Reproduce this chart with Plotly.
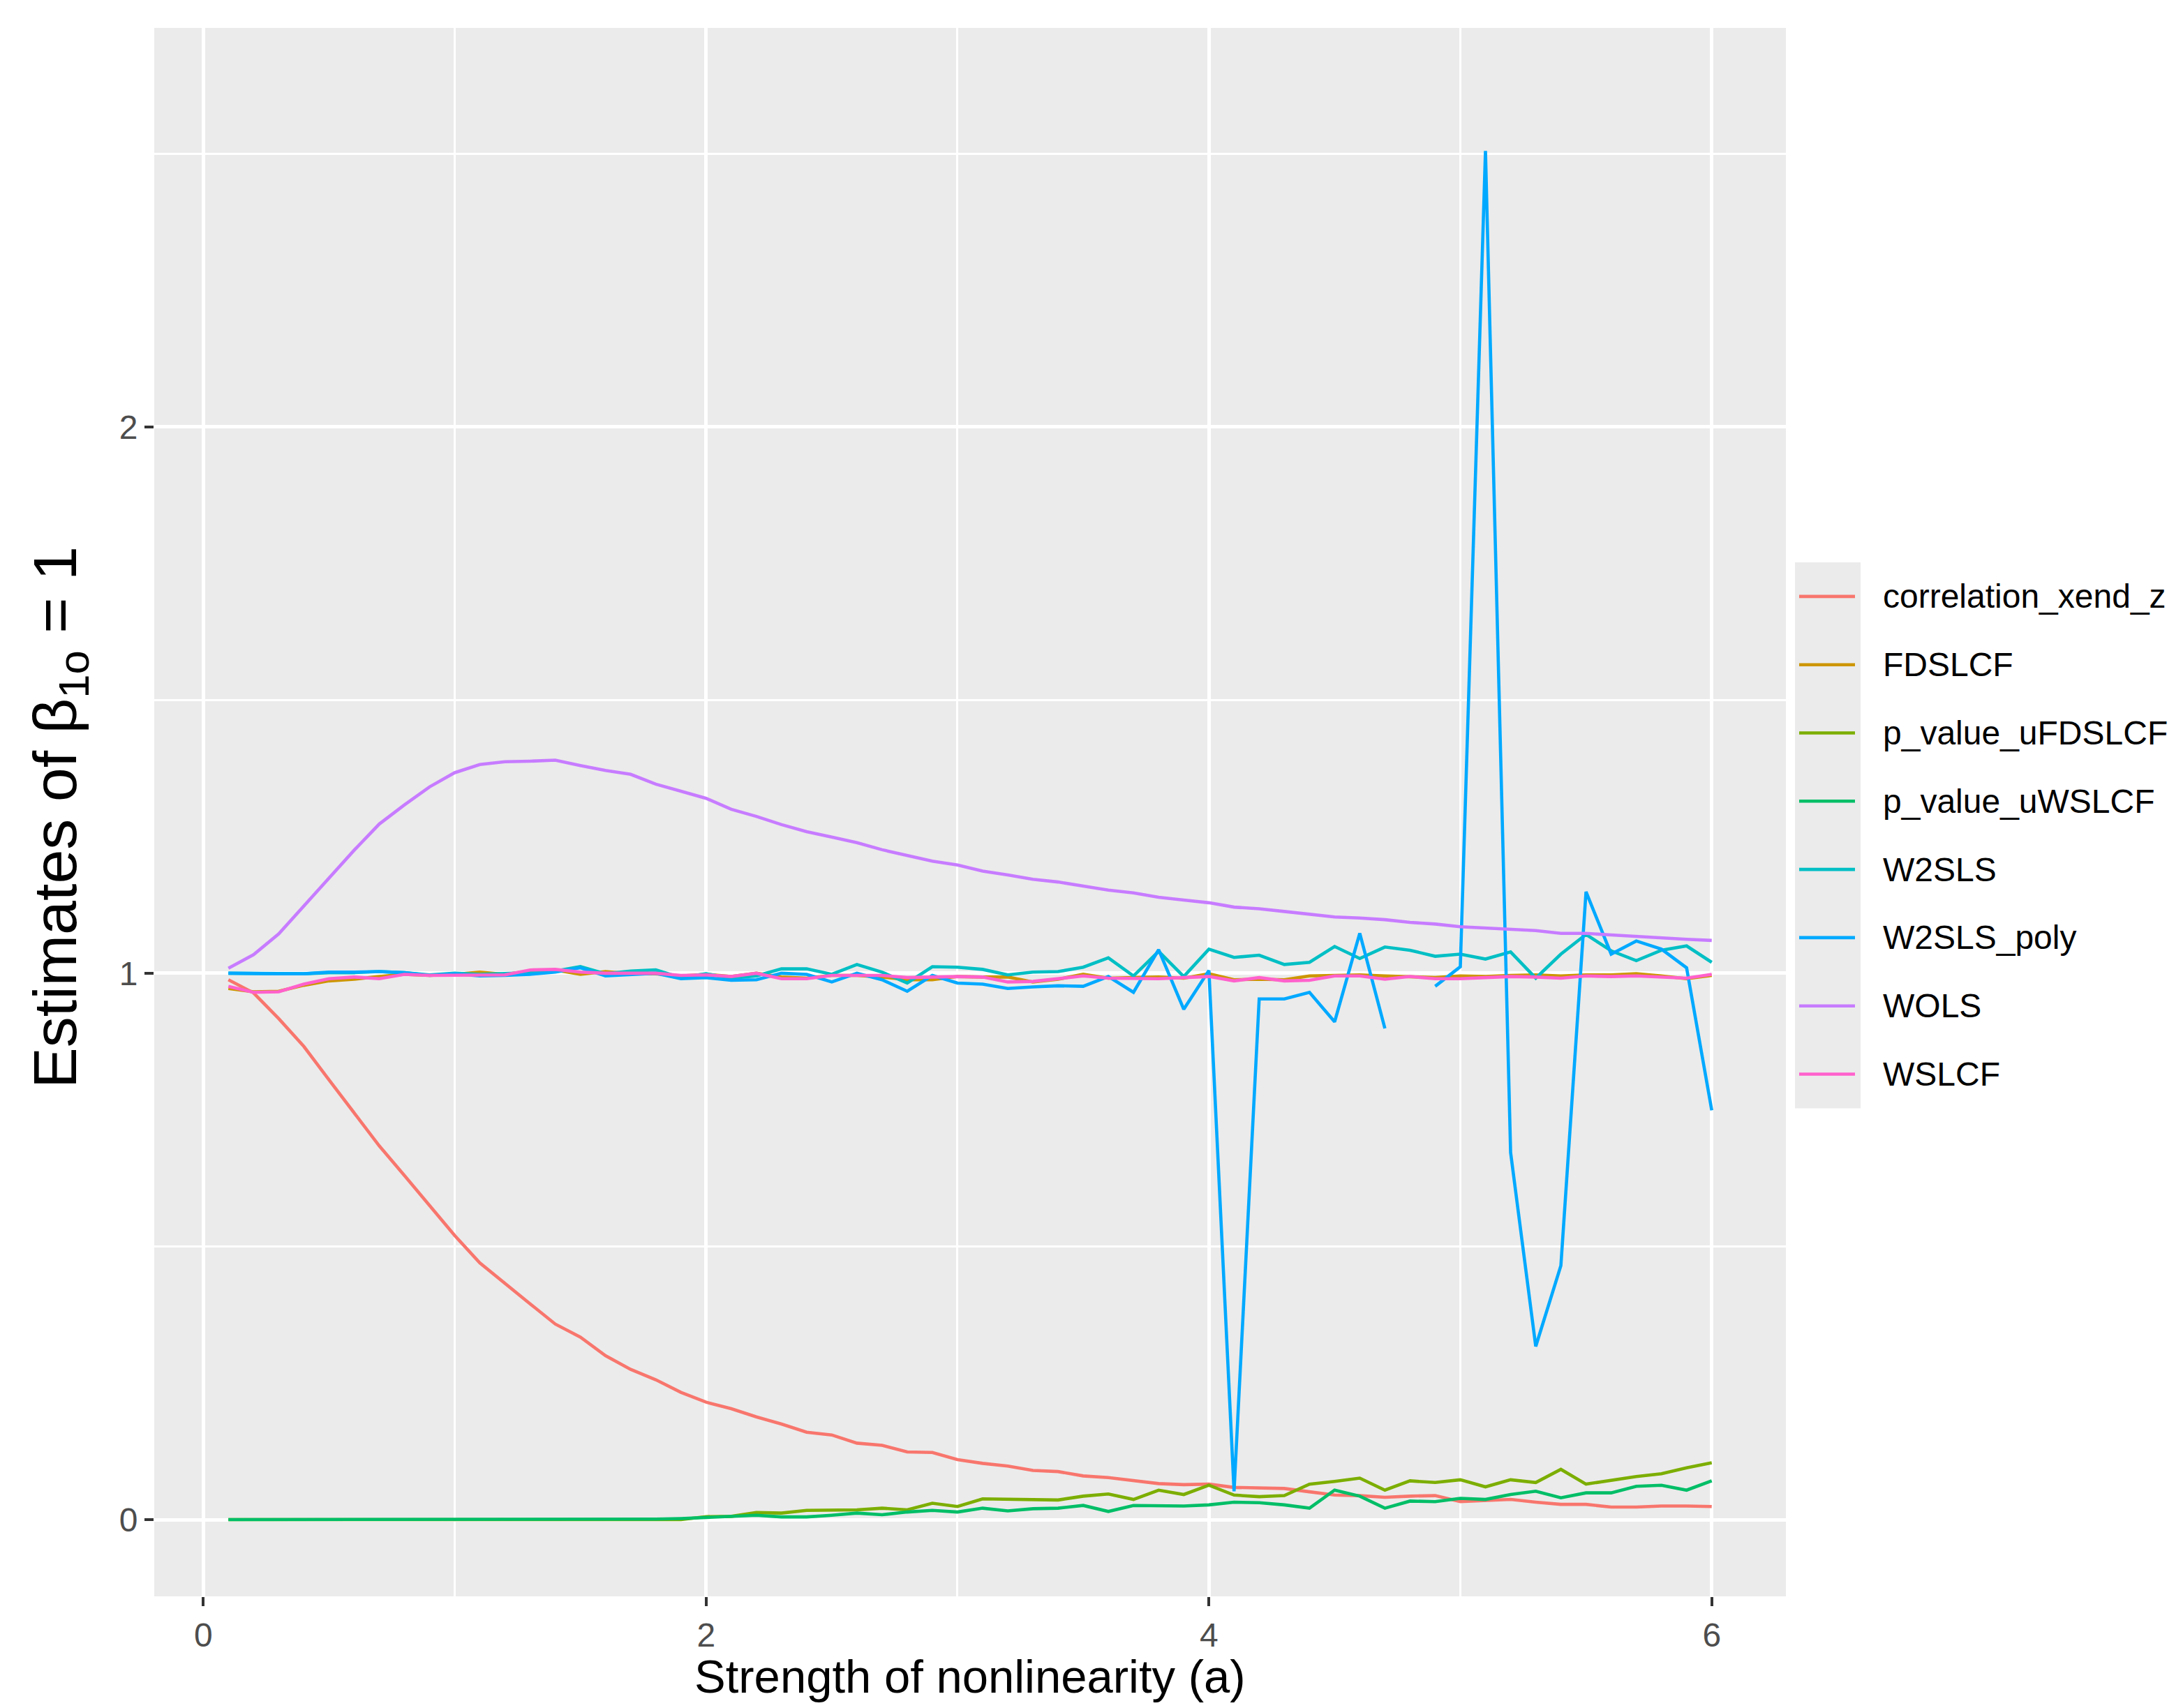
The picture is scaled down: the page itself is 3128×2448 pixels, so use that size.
import plotly.graph_objects as go

a_values = [round(0.1 * i, 1) for i in range(1, 61)]

series_names = ["correlation_xend_z", "FDSLCF", "p_value_uFDSLCF", "p_value_uWSLCF",
                "W2SLS", "W2SLS_poly", "WOLS", "WSLCF"]
series_colors = ["#F8766D", "#CD9600", "#7CAE00", "#00BE67",
                 "#00BFC4", "#00A9FF", "#C77CFF", "#FF61CC"]

correlation_xend_z = [0.988, 0.964, 0.917, 0.866, 0.805, 0.745, 0.684, 0.630, 0.576, 0.520,
                      0.470, 0.432, 0.395, 0.358, 0.334, 0.300, 0.275, 0.256, 0.233, 0.215,
                      0.203, 0.188, 0.175, 0.160, 0.155, 0.140, 0.136, 0.124, 0.123, 0.110,
                      0.103, 0.098, 0.090, 0.088, 0.080, 0.077, 0.072, 0.066, 0.064, 0.065,
                      0.059, 0.058, 0.057, 0.051, 0.045, 0.044, 0.041, 0.043, 0.044, 0.033,
                      0.035, 0.037, 0.032, 0.028, 0.028, 0.023, 0.023, 0.025, 0.025, 0.024]

FDSLCF = [0.972, 0.966, 0.967, 0.978, 0.986, 0.989, 0.994, 0.998, 0.996, 0.998,
          1.002, 0.998, 1.004, 1.006, 0.998, 1.003, 0.999, 0.999, 0.995, 0.998,
          0.994, 1.000, 0.993, 0.991, 0.996, 0.996, 0.993, 0.988, 0.988, 0.994,
          0.993, 0.993, 0.984, 0.989, 0.998, 0.991, 0.992, 0.993, 0.991, 0.999,
          0.988, 0.989, 0.988, 0.995, 0.996, 0.997, 0.995, 0.994, 0.992, 0.995,
          0.994, 0.996, 0.997, 0.995, 0.997, 0.997, 0.999, 0.995, 0.990, 0.996]

p_value_uFDSLCF = [0.0] * 19 + [
          0.0055, 0.006, 0.013, 0.012, 0.017, 0.018, 0.018, 0.021, 0.018, 0.030,
          0.024, 0.038, 0.037, 0.036, 0.036, 0.043, 0.047, 0.037, 0.054, 0.046,
          0.063, 0.045, 0.042, 0.044, 0.065, 0.070, 0.076, 0.054, 0.071, 0.068,
          0.073, 0.060, 0.073, 0.068, 0.092, 0.065, 0.072, 0.079, 0.084, 0.095, 0.104]

p_value_uWSLCF = [0.0] * 17 + [
          0.001, 0.002, 0.004, 0.0055, 0.008, 0.005, 0.005, 0.008, 0.012, 0.009,
          0.014, 0.017, 0.014, 0.021, 0.016, 0.020, 0.021, 0.026, 0.015, 0.026,
          0.026, 0.025, 0.027, 0.032, 0.031, 0.027, 0.021, 0.054, 0.043, 0.021,
          0.034, 0.033, 0.039, 0.037, 0.046, 0.052, 0.040, 0.049, 0.049, 0.061,
          0.063, 0.054, 0.071]

W2SLS = [1.000, 1.000, 0.999, 0.999, 1.001, 1.001, 1.003, 1.001, 0.997, 1.000,
         0.998, 0.999, 1.001, 1.004, 1.012, 0.999, 1.004, 1.006, 0.992, 0.999,
         0.991, 0.995, 1.008, 1.008, 0.998, 1.016, 1.002, 0.982, 1.012, 1.011,
         1.007, 0.997, 1.002, 1.003, 1.011, 1.028, 0.995, 1.040, 0.994, 1.044,
         1.029, 1.033, 1.016, 1.020, 1.049, 1.027, 1.048, 1.042, 1.031, 1.035,
         1.026, 1.039, 0.991, 1.035, 1.071, 1.041, 1.023, 1.042, 1.050, 1.020]

W2SLS_poly = [1.000, 0.999, 0.999, 0.999, 1.002, 1.002, 1.003, 1.001, 0.996, 0.999,
              0.995, 0.996, 0.998, 1.002, 1.010, 0.995, 0.998, 1.000, 0.990, 0.992,
              0.987, 0.988, 1.000, 0.998, 0.984, 1.000, 0.988, 0.967, 0.996, 0.982,
              0.980, 0.972, 0.975, 0.977, 0.976, 0.994, 0.965, 1.043, 0.934, 1.005,
              0.052, 0.953, 0.953, 0.965, 0.911, 1.073, 0.899, None, 0.976, 1.012,
              2.505, 0.672, 0.317, 0.465, 1.149, 1.035, 1.059, 1.044, 1.010, 0.749]

WOLS = [1.009, 1.034, 1.072, 1.123, 1.176, 1.225, 1.273, 1.308, 1.341, 1.367,
        1.382, 1.387, 1.388, 1.390, 1.380, 1.371, 1.364, 1.346, 1.333, 1.320,
        1.300, 1.287, 1.272, 1.259, 1.249, 1.239, 1.226, 1.216, 1.205, 1.198,
        1.187, 1.180, 1.172, 1.167, 1.159, 1.152, 1.147, 1.139, 1.134, 1.129,
        1.121, 1.118, 1.113, 1.108, 1.103, 1.101, 1.098, 1.093, 1.090, 1.085,
        1.083, 1.080, 1.078, 1.073, 1.073, 1.070, 1.067, 1.065, 1.062, 1.060]

WSLCF = [0.976, 0.965, 0.966, 0.980, 0.990, 0.993, 0.990, 0.998, 0.996, 0.996,
         0.997, 0.997, 1.006, 1.007, 1.002, 1.000, 1.000, 1.000, 0.996, 0.997,
         0.994, 1.000, 0.990, 0.990, 0.996, 0.996, 0.996, 0.992, 0.993, 0.994,
         0.993, 0.984, 0.985, 0.990, 0.995, 0.991, 0.991, 0.990, 0.992, 0.994,
         0.986, 0.992, 0.986, 0.987, 0.995, 0.995, 0.989, 0.994, 0.990, 0.990,
         0.992, 0.994, 0.993, 0.991, 0.995, 0.994, 0.995, 0.993, 0.991, 0.998]

series_values = [correlation_xend_z, FDSLCF, p_value_uFDSLCF, p_value_uWSLCF,
                 W2SLS, W2SLS_poly, WOLS, WSLCF]

x_ticks = [0, 2, 4, 6]
y_ticks = [0, 1, 2]

# page has an 8px body margin; work in screen pixels and convert
OFF = 8
W, H = 3128 - OFF, 2448 - OFF
L, R, T, B = 221, 2559, 40, 2288          # plot panel in screen pixels
PW, PH = R - L, B - T
FONT = "Liberation Sans, Arial, Helvetica, sans-serif"


def px(xp):
    return (xp - L) / PW


def py(yp):
    return (B - yp) / PH


fig = go.Figure()
for name, color, vals in zip(series_names, series_colors, series_values):
    fig.add_trace(go.Scatter(x=a_values, y=vals, mode="lines", name=name,
                             line=dict(color=color, width=4.6),
                             connectgaps=False, showlegend=False))

# ggplot-style legend
key_top, key_h = 806, 97.8
fig.add_shape(type="rect", xref="paper", yref="paper",
              x0=px(2572), x1=px(2666), y0=py(key_top), y1=py(key_top + key_h * len(series_names)),
              fillcolor="#EBEBEB", line=dict(width=0), layer="below")
for i, (name, color) in enumerate(zip(series_names, series_colors)):
    yc = key_top + key_h * (i + 0.5)
    fig.add_shape(type="line", xref="paper", yref="paper",
                  x0=px(2578), x1=px(2658), y0=py(yc), y1=py(yc),
                  line=dict(color=color, width=4.6))
    fig.add_annotation(xref="paper", yref="paper", x=px(2696), y=py(yc),
                       text=name, showarrow=False, xanchor="left", yanchor="middle",
                       font=dict(family=FONT, size=48, color="black"))

fig.add_annotation(xref="paper", yref="paper", x=0.5, y=py(2402),
                   text="Strength of nonlinearity (a)", showarrow=False,
                   xanchor="center", yanchor="middle", borderpad=0,
                   font=dict(family=FONT, size=67, color="black"))
fig.add_annotation(xref="paper", yref="paper", x=px(84), y=py(1172),
                   text="Estimates of β<sub>1o</sub> = 1", showarrow=False, textangle=-90,
                   xanchor="center", yanchor="middle",
                   font=dict(family=FONT, size=88, color="black"))

axis_common = dict(showline=False, zeroline=False, ticks="outside", ticklen=13,
                   tickwidth=3.5, tickcolor="#333333", showgrid=True,
                   gridcolor="white", gridwidth=5,
                   tickfont=dict(family=FONT, size=48, color="#4D4D4D"))

fig.update_layout(
    width=W, height=H,
    margin=dict(l=L - OFF, r=W - (R - OFF), t=T - OFF, b=H - (B - OFF), autoexpand=False),
    paper_bgcolor="white", plot_bgcolor="#EBEBEB",
    xaxis=dict(range=[-0.195, 6.295], tickvals=x_ticks, ticktext=[str(v) for v in x_ticks],
               minor=dict(dtick=1, tick0=0, showgrid=True, gridcolor="white", gridwidth=2.6),
               **axis_common),
    yaxis=dict(range=[-0.1404, 2.730], tickvals=y_ticks, ticktext=[str(v) for v in y_ticks],
               minor=dict(dtick=0.5, tick0=0, showgrid=True, gridcolor="white", gridwidth=2.6),
               **axis_common),
)

fig.write_html("out.html")
